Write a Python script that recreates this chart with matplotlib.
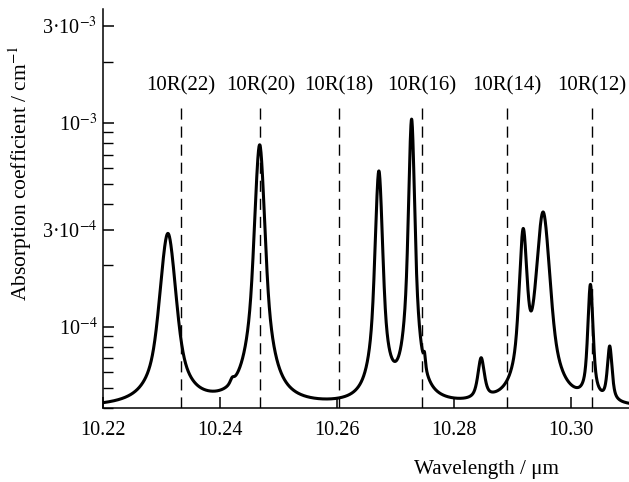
import matplotlib
matplotlib.use("Agg")
import matplotlib.pyplot as plt
import numpy as np
from matplotlib.ticker import FixedLocator, LogLocator, NullFormatter

plt.rcParams["font.family"] = ["Liberation Serif", "DejaVu Serif"]
plt.rcParams["mathtext.fontset"] = "stix"

# absorption lines: centre (um), amplitude (cm^-1), half width at half max (um)
line_centers = [10.2311, 10.2421, 10.2468, 10.2672, 10.2728, 10.2750, 10.2847, 10.2919, 10.2953, 10.3034, 10.3067]
line_heights = [2.46e-4, 3e-6, 7.4e-4, 5.37e-4, 1.0e-3, 1.0e-5, 2.6e-5, 2.45e-4, 3.2e-4, 1.17e-4, 3.7e-5]
line_widths = [0.0012, 0.0004, 0.0007, 0.00052, 0.0004, 0.0002, 0.0006, 0.0006, 0.001, 0.00042, 0.00042]
lorentz_fraction = 0.7
background = 4.0e-5

laser_lines = [10.2333, 10.2469, 10.2604, 10.2746, 10.2891, 10.3036]
laser_labels = ["10R(22)", "10R(20)", "10R(18)", "10R(16)", "10R(14)", "10R(12)"]

x_ticks = [10.22, 10.24, 10.26, 10.28, 10.30]
x_tick_labels = ["10.22", "10.24", "10.26", "10.28", "10.30"]
y_ticks = [1e-4, 3e-4, 1e-3, 3e-3]
y_tick_labels = ["10$^{-4}$", "3·10$^{-4}$", "10$^{-3}$", "3·10$^{-3}$"]

# pseudo-Voigt line shapes on a flat background
wavelength = np.linspace(10.22, 10.31, 4000)
absorption = np.full_like(wavelength, background)
for center, height, width in zip(line_centers, line_heights, line_widths):
    u = (wavelength - center) / width
    shape = (1 - lorentz_fraction) * np.exp(-np.log(2) * u**2) + lorentz_fraction / (1 + u**2)
    absorption += height * shape

fig = plt.figure(figsize=(6.29, 4.82), dpi=100)
ax = fig.add_axes([0.1638, 0.1535, 0.8362, 0.8278])

ax.plot(wavelength, absorption, color="black", lw=2.2, solid_joinstyle="round")
for pos, label in zip(laser_lines, laser_labels):
    ax.axvline(pos, ymin=0, ymax=0.757, color="black", lw=1.0, linestyle=(0, (8, 5)))
    ax.text(pos, 0.807, label, transform=ax.get_xaxis_transform(), ha="center", va="center", fontsize=15)

ax.set_yscale("log")
ax.set_xlim(10.22, 10.31)
ax.set_ylim(4.0e-5, 3.62e-3)

ax.xaxis.set_major_locator(FixedLocator(x_ticks))
ax.set_xticklabels(x_tick_labels)
ax.yaxis.set_major_locator(FixedLocator(y_ticks))
ax.set_yticklabels(y_tick_labels)
ax.yaxis.set_minor_locator(LogLocator(base=10, subs=np.arange(2, 10)))
ax.yaxis.set_minor_formatter(NullFormatter())

ax.tick_params(axis="both", which="major", direction="in", length=8, width=1.1, labelsize=14.5)
ax.tick_params(axis="x", which="major", pad=9)
ax.tick_params(axis="y", which="major", pad=4)
ax.tick_params(axis="y", which="minor", direction="in", length=7, width=1.0)

for side in ["top", "right"]:
    ax.spines[side].set_visible(False)
for side in ["left", "bottom"]:
    ax.spines[side].set_linewidth(1.1)

ax.set_xlabel("Wavelength / μm", fontsize=15.2)
ax.xaxis.set_label_coords(0.73, -0.13)
ax.set_ylabel("Absorption coefficient / cm$^{-1}$", fontsize=15.5, va="center")
ax.yaxis.set_label_coords(-0.158, 0.589)

fig.savefig("out.png", dpi=100)
